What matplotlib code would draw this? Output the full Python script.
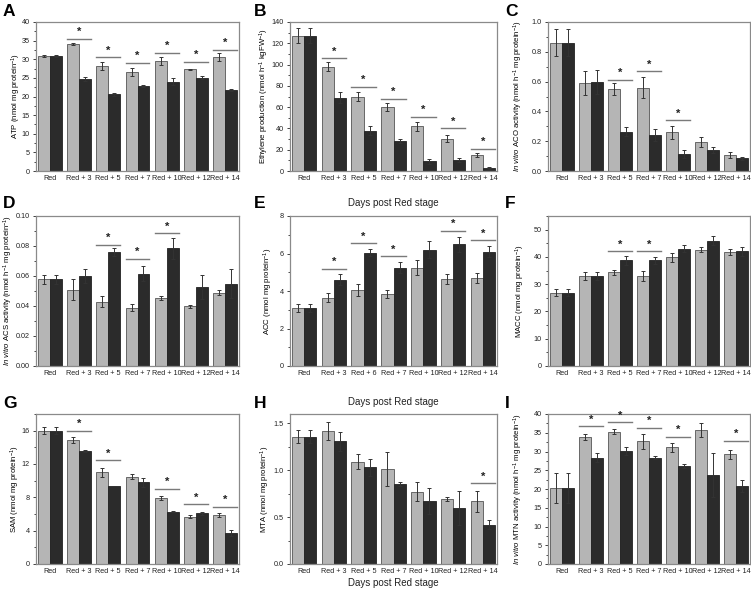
import matplotlib
matplotlib.use("Agg")
import matplotlib.pyplot as plt
from matplotlib.ticker import AutoMinorLocator, MultipleLocator, FormatStrFormatter
import numpy as np

plt.rcParams['font.family'] = ['Liberation Sans', 'DejaVu Sans']
plt.rcParams['mathtext.fontset'] = 'custom'
plt.rcParams['mathtext.rm'] = 'Liberation Sans'
plt.rcParams['mathtext.it'] = 'Liberation Sans:italic'
plt.rcParams['mathtext.bf'] = 'Liberation Sans:bold'

categories = ["Red", "Red + 3", "Red + 5", "Red + 7", "Red + 10", "Red + 12", "Red + 14"]
categories_E = ["Red", "Red + 3", "Red + 6", "Red + 7", "Red + 10", "Red + 12", "Red + 14"]

# Panel A: ATP
atp_light = [30.9, 34.1, 28.2, 26.6, 29.5, 27.3, 30.6]
atp_light_err = [0.3, 0.2, 1.1, 1.0, 1.0, 0.1, 1.0]
atp_dark = [30.9, 24.7, 20.6, 22.8, 24.0, 25.1, 21.8]
atp_dark_err = [0.3, 0.6, 0.4, 0.3, 0.9, 0.4, 0.3]
atp_sig = [None, 35.5, 30.5, 29.0, 31.8, 29.3, 32.6]

# Panel B: Ethylene
eth_light = [127, 98, 70, 60, 42, 30.5, 15]
eth_light_err = [7, 4, 4, 4, 4, 3, 1.5]
eth_dark = [127, 69, 38, 28.5, 9, 10.5, 3]
eth_dark_err = [7, 5, 4, 2, 2, 2, 1]
eth_sig = [None, 106, 79, 68, 51, 40, 21]

# Panel C: ACO
aco_light = [0.86, 0.59, 0.55, 0.56, 0.26, 0.195, 0.105]
aco_light_err = [0.09, 0.08, 0.04, 0.07, 0.045, 0.035, 0.02]
aco_dark = [0.86, 0.60, 0.265, 0.24, 0.115, 0.14, 0.085]
aco_dark_err = [0.09, 0.08, 0.03, 0.04, 0.025, 0.02, 0.01]
aco_sig = [None, None, 0.61, 0.67, 0.34, None, None]

# Panel D: ACS
acs_light = [0.058, 0.051, 0.043, 0.039, 0.0455, 0.040, 0.049]
acs_light_err = [0.003, 0.007, 0.0035, 0.0025, 0.0015, 0.001, 0.0015]
acs_dark = [0.058, 0.060, 0.076, 0.0615, 0.0785, 0.053, 0.055]
acs_dark_err = [0.003, 0.0045, 0.0025, 0.005, 0.007, 0.008, 0.0095]
acs_sig = [None, None, 0.081, 0.0715, 0.0885, None, None]

# Panel E: ACC
acc_light = [3.1, 3.65, 4.05, 3.85, 5.25, 4.65, 4.7]
acc_light_err = [0.2, 0.25, 0.3, 0.2, 0.4, 0.25, 0.25]
acc_dark = [3.1, 4.6, 6.05, 5.25, 6.2, 6.5, 6.1]
acc_dark_err = [0.2, 0.3, 0.2, 0.3, 0.45, 0.4, 0.3]
acc_sig = [None, 5.2, 6.55, 5.85, None, 7.2, 6.7]

# Panel F: MACC
macc_light = [26.8, 33.0, 34.3, 33.0, 39.8, 42.7, 41.8]
macc_light_err = [1.3, 1.5, 1.0, 1.8, 1.6, 1.0, 1.0]
macc_dark = [26.8, 33.0, 38.7, 38.7, 43.0, 46.0, 42.0]
macc_dark_err = [1.3, 1.5, 1.7, 1.4, 1.3, 1.8, 1.8]
macc_sig = [None, None, 42.0, 42.0, None, None, None]

# Panel G: SAM
sam_light = [16.0, 14.9, 11.0, 10.5, 7.95, 5.7, 5.85]
sam_light_err = [0.4, 0.35, 0.55, 0.35, 0.25, 0.15, 0.25]
sam_dark = [16.0, 13.6, 9.4, 9.8, 6.3, 6.1, 3.75]
sam_dark_err = [0.4, 0.1, 0.0, 0.5, 0.1, 0.2, 0.35]
sam_sig = [None, 16.0, 12.45, None, 9.05, 7.15, 6.9]

# Panel H: MTA
mta_light = [1.36, 1.42, 1.09, 1.01, 0.77, 0.69, 0.67]
mta_light_err = [0.07, 0.1, 0.08, 0.18, 0.1, 0.02, 0.11]
mta_dark = [1.36, 1.31, 1.03, 0.85, 0.67, 0.60, 0.42]
mta_dark_err = [0.07, 0.1, 0.09, 0.02, 0.14, 0.18, 0.05]
mta_sig = [None, None, None, None, None, None, 0.86]

# Panel I: MTN
mtn_light = [20.2, 34.0, 35.3, 32.8, 31.1, 35.7, 29.3]
mtn_light_err = [4.0, 0.8, 0.6, 2.0, 1.1, 1.8, 1.2]
mtn_dark = [20.2, 28.3, 30.1, 28.4, 26.2, 23.8, 20.9]
mtn_dark_err = [4.0, 1.2, 1.1, 0.5, 0.5, 5.8, 1.6]
mtn_sig = [None, 36.7, 37.8, 36.3, 33.9, None, 32.8]

W, H = 751, 591
fig = plt.figure(figsize=(W / 100, H / 100), dpi=100)

cols = [(36, 239), (290, 497), (548, 750)]
rows = [(22, 171), (216, 366), (414, 564)]

def make_ax(r, c):
    (l, rr), (t, b) = cols[c], rows[r]
    return fig.add_axes([l / W, 1 - b / H, (rr - l) / W, (b - t) / H])

LIGHT = '#b5b5b5'
DARK = '#2b2b2b'

def panel(r, c, letter, light, lerr, dark, derr, sig, ylim, major, fmt, ylabel,
          lab_x, cats=categories):
    ax = make_ax(r, c)
    x = np.arange(len(cats))
    w = 0.41
    ax.bar(x - w / 2, light, w, color=LIGHT, edgecolor='#555555', linewidth=0.6, zorder=2)
    ax.bar(x + w / 2, dark, w, color=DARK, edgecolor='#222222', linewidth=0.6, zorder=2)
    ax.errorbar(x - w / 2, light, yerr=lerr, fmt='none', ecolor='#333333',
                elinewidth=0.7, capsize=1.6, capthick=0.7, zorder=3)
    ax.errorbar(x + w / 2, dark, yerr=derr, fmt='none', ecolor='#333333',
                elinewidth=0.7, capsize=1.6, capthick=0.7, zorder=3)
    for i, s in enumerate(sig):
        if s is not None:
            ax.plot([i - w, i + w], [s, s], color='#7a7a7a', lw=1.0, zorder=3)
            ax.text(i, s + (ylim[1] - ylim[0]) * 0.012, '*', ha='center', va='bottom',
                    fontsize=8, fontweight='bold', color='#222222')
    ax.set_xlim(-0.47, len(cats) - 0.53)
    ax.set_ylim(*ylim)
    ax.yaxis.set_major_locator(MultipleLocator(major))
    ax.yaxis.set_minor_locator(AutoMinorLocator(2))
    ax.yaxis.set_major_formatter(FormatStrFormatter(fmt))
    ax.set_xticks(x)
    ax.set_xticklabels(cats)
    ax.tick_params(axis='both', labelsize=5.2, colors='#222222', width=0.6)
    ax.tick_params(axis='y', which='major', length=2.5, pad=2)
    ax.tick_params(axis='y', which='minor', length=1.5, width=0.5)
    ax.tick_params(axis='x', length=0, pad=3)
    for sp in ax.spines.values():
        sp.set_color('#8a8a8a')
        sp.set_linewidth(0.9)
    ax.set_ylabel(ylabel, fontsize=5.6)
    ax.yaxis.label.set_verticalalignment('center')
    ax.yaxis.set_label_coords((lab_x - cols[c][0]) / (cols[c][1] - cols[c][0]), 0.5)
    lx = {0: 3, 1: 254, 2: 505}[c]
    ly = {0: 4, 1: 196, 2: 396}[r]
    fig.text(lx / W, 1 - ly / H, letter, fontsize=12.5, fontweight='bold', va='top', ha='left')
    return ax

unit1 = r'(nmol mg protein$^{-1}$)'
unit2 = r'(nmol h$^{-1}$ mg protein$^{-1}$)'

panel(0, 0, 'A', atp_light, atp_light_err, atp_dark, atp_dark_err, atp_sig,
      (0, 40), 5, '%d', 'ATP ' + unit1, 16)
panel(0, 1, 'B', eth_light, eth_light_err, eth_dark, eth_dark_err, eth_sig,
      (0, 140), 20, '%d', r'Ethylene production (nmol h$^{-1}$ kgFW$^{-1}$)', 264)
panel(0, 2, 'C', aco_light, aco_light_err, aco_dark, aco_dark_err, aco_sig,
      (0, 1.0), 0.2, '%.1f', r'$\mathit{In\ vitro}$ ACO activity ' + unit2, 518)
panel(1, 0, 'D', acs_light, acs_light_err, acs_dark, acs_dark_err, acs_sig,
      (0, 0.10), 0.02, '%.2f', r'$\mathit{In\ vitro}$ ACS activity ' + unit2, 8)
panel(1, 1, 'E', acc_light, acc_light_err, acc_dark, acc_dark_err, acc_sig,
      (0, 8), 2, '%d', 'ACC ' + unit1, 268, cats=categories_E)
panel(1, 2, 'F', macc_light, macc_light_err, macc_dark, macc_dark_err, macc_sig,
      (0, 55), 10, '%d', 'MACC ' + unit1, 520)
panel(2, 0, 'G', sam_light, sam_light_err, sam_dark, sam_dark_err, sam_sig,
      (0, 18), 4, '%d', 'SAM ' + unit1, 15)
panel(2, 1, 'H', mta_light, mta_light_err, mta_dark, mta_dark_err, mta_sig,
      (0, 1.6), 0.5, '%.1f', 'MTA ' + unit1, 265)
panel(2, 2, 'I', mtn_light, mtn_light_err, mtn_dark, mtn_dark_err, mtn_sig,
      (0, 40), 5, '%d', r'$\mathit{In\ vitro}$ MTN activity ' + unit2, 518)

xlabel_text = 'Days post Red stage'
mid_x = (cols[1][0] + cols[1][1]) / 2
for yy in (203, 402, 583):
    fig.text(mid_x / W, 1 - yy / H, xlabel_text, fontsize=7, ha='center', va='center',
             color='#222222')

fig.savefig('out.png', dpi=100)
